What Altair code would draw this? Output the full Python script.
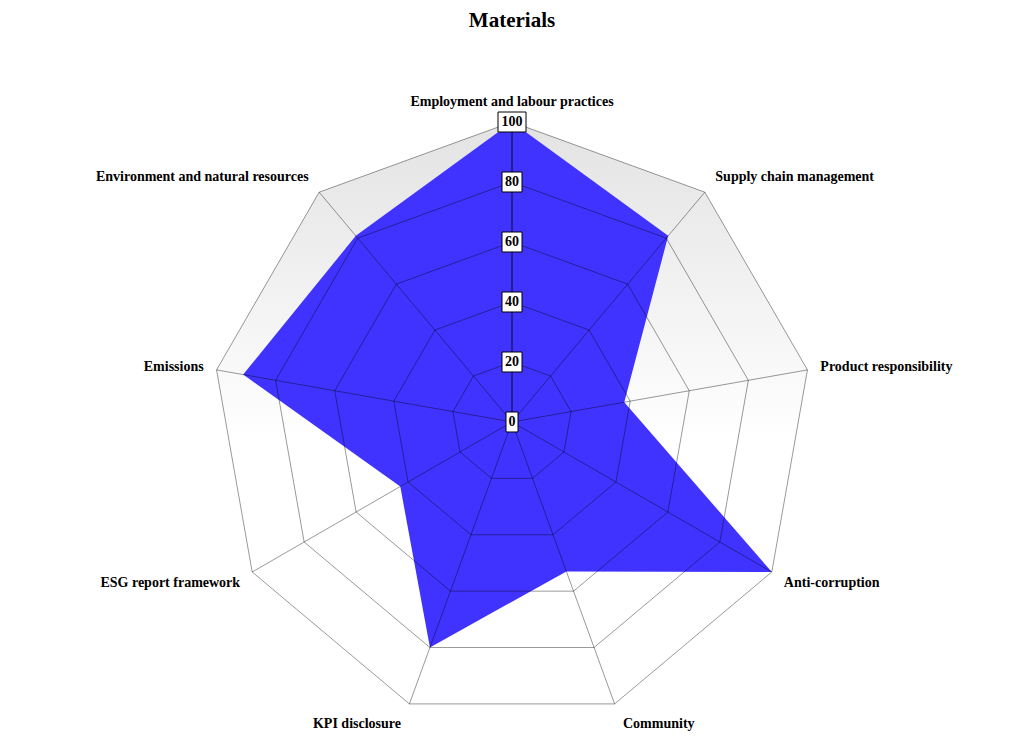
"""Radar chart of ESG disclosure scores for the Materials sector."""

import pandas as pd
import altair as alt

categories = [
    "Employment and labour practices",
    "Supply chain management",
    "Product responsibility",
    "Anti-corruption",
    "Community",
    "KPI disclosure",
    "ESG report framework",
    "Emissions",
    "Environment and natural resources",
]
scores = [100, 81, 38, 100, 53, 80, 43, 91, 81]
ring_levels = [20, 40, 60, 80, 100]
tick_values = [0, 20, 40, 60, 80, 100]

n = len(categories)
FONT = "Liberation Serif"

df = pd.DataFrame({"idx": list(range(n)), "category": categories, "score": scores})
df_rings = pd.DataFrame(
    [(r, i) for r in ring_levels for i in range(n)], columns=["ring", "idx"]
)
df_ticks = pd.DataFrame({"value": tick_values, "label": [str(t) for t in tick_values]})

angle = f"datum.idx * 2 * PI / {n}"

x_scale = alt.Scale(domain=[-100, 100], nice=False, zero=False)
y_scale = alt.Scale(domain=[-100, 100], nice=False, zero=False)

# grey gradient background polygon (outer ring)
background = (
    alt.Chart(df)
    .transform_calculate(
        x=f"100 * sin({angle})",
        y=f"100 * cos({angle})",
    )
    .mark_line(
        interpolate="linear-closed",
        fill=alt.Gradient(
            gradient="linear",
            stops=[
                alt.GradientStop(color="#e3e3e3", offset=0),
                alt.GradientStop(color="#ffffff", offset=0.55),
                alt.GradientStop(color="#ffffff", offset=1),
            ],
            x1=0,
            x2=0,
            y1=0,
            y2=1,
        ),
        strokeWidth=0,
    )
    .encode(
        alt.X("x:Q", scale=x_scale, axis=None),
        alt.Y("y:Q", scale=y_scale, axis=None),
        order="idx:Q",
    )
)

# the score polygon
area = (
    alt.Chart(df)
    .transform_calculate(
        x=f"datum.score * sin({angle})",
        y=f"datum.score * cos({angle})",
    )
    .mark_line(interpolate="linear-closed", fill="#4033ff", strokeWidth=0)
    .encode(
        alt.X("x:Q", scale=x_scale, axis=None),
        alt.Y("y:Q", scale=y_scale, axis=None),
        order="idx:Q",
    )
)

rings = (
    alt.Chart(df_rings)
    .transform_calculate(
        x=f"datum.ring * sin({angle})",
        y=f"datum.ring * cos({angle})",
    )
    .mark_line(interpolate="linear-closed", color="#000000", opacity=0.4, strokeWidth=1)
    .encode(
        alt.X("x:Q", scale=x_scale, axis=None),
        alt.Y("y:Q", scale=y_scale, axis=None),
        detail="ring:N",
        order="idx:Q",
    )
)

spokes = (
    alt.Chart(df)
    .transform_calculate(
        x=f"100 * sin({angle})",
        y=f"100 * cos({angle})",
        x0="0",
        y0="0",
    )
    .mark_rule(color="#000000", strokeWidth=1)
    .encode(
        alt.X("x0:Q", scale=x_scale, axis=None),
        alt.Y("y0:Q", scale=y_scale, axis=None),
        x2="x:Q",
        y2="y:Q",
        opacity=alt.condition(alt.datum.idx == 0, alt.value(0.85), alt.value(0.4)),
    )
)

# boxed value labels on the vertical axis
tick_boxes = (
    alt.Chart(df_ticks)
    .transform_calculate(
        hw="(8 * length(datum.label) + 4) / 6",
        xa="-datum.hw",
        xb="datum.hw",
        ya="datum.value - 3.33",
        yb="datum.value + 3.33",
    )
    .mark_rect(fill="#ffffff", stroke="#000000", strokeWidth=1)
    .encode(
        alt.X("xa:Q", scale=x_scale, axis=None),
        alt.Y("ya:Q", scale=y_scale, axis=None),
        x2="xb:Q",
        y2="yb:Q",
    )
)

tick_text = (
    alt.Chart(df_ticks)
    .transform_calculate(x0="0")
    .mark_text(font=FONT, fontSize=14, fontWeight="bold", color="#000000", baseline="middle")
    .encode(
        alt.X("x0:Q", scale=x_scale, axis=None),
        alt.Y("value:Q", scale=y_scale, axis=None),
        text="label:N",
    )
)

# category labels around the outside
label_base = alt.Chart(df).transform_calculate(
    s=f"sin({angle})",
    c=f"cos({angle})",
    gap="(6 + 7 * abs(datum.s)) / 3",
    lx="100 * datum.s + (datum.s > 0.01 ? datum.gap : (datum.s < -0.01 ? -datum.gap : 0))",
    ly="100 * datum.c + (20.5 * datum.c - 0.5) / 3",
)


def label_layer(test, align):
    return (
        label_base.transform_filter(test)
        .mark_text(
            font=FONT,
            fontSize=14,
            fontWeight="bold",
            color="#000000",
            align=align,
            baseline="middle",
        )
        .encode(
            alt.X("lx:Q", scale=x_scale, axis=None),
            alt.Y("ly:Q", scale=y_scale, axis=None),
            text="category:N",
        )
    )


labels_right = label_layer("datum.s > 0.01", "left")
labels_left = label_layer("datum.s < -0.01", "right")
labels_top = label_layer("abs(datum.s) <= 0.01", "center")

chart = (
    alt.layer(
        background,
        area,
        rings,
        spokes,
        tick_boxes,
        tick_text,
        labels_right,
        labels_left,
        labels_top,
    )
    .properties(
        width=600,
        height=600,
        title=alt.TitleParams(
            "Materials",
            font=FONT,
            fontSize=21,
            fontWeight="bold",
            color="#000000",
            offset=64,
        ),
        autosize="none",
        padding={"left": 204, "top": 114, "right": 204, "bottom": 23},
    )
    .configure_view(stroke=None)
)

chart.save("out.html", embed_options={"renderer": "svg", "actions": False})
